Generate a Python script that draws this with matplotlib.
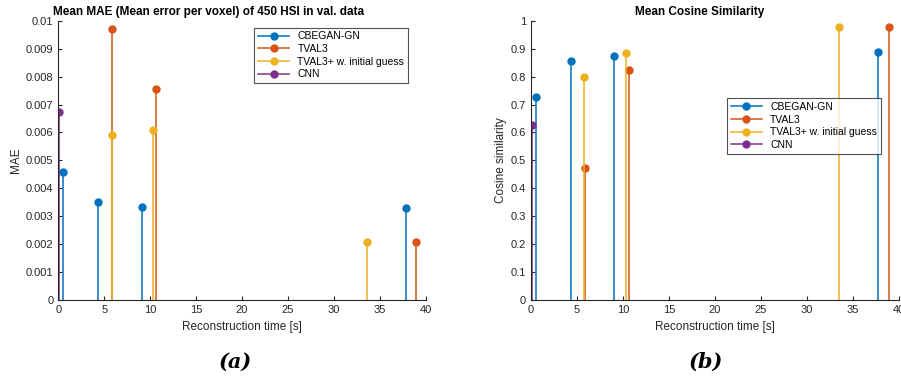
import numpy as np
import matplotlib.pyplot as plt

# reconstruction times [s] and scores per method
names = ['CBEGAN-GN', 'TVAL3', 'TVAL3+ w. initial guess', 'CNN']
colors = ['#0072BD', '#D95319', '#EDB120', '#7E2F8E']

t_cbegan = [0.55, 4.32, 9.08, 37.8]
t_tval3 = [5.88, 10.64, 38.97]
t_tval3p = [5.8, 10.35, 33.55]
t_cnn = [0.08]

mae_cbegan = [0.0046, 0.0035, 0.00335, 0.0033]
mae_tval3 = [0.00972, 0.00755, 0.00207]
mae_tval3p = [0.00592, 0.0061, 0.00208]
mae_cnn = [0.00672]

cos_cbegan = [0.728, 0.857, 0.875, 0.887]
cos_tval3 = [0.472, 0.822, 0.978]
cos_tval3p = [0.797, 0.885, 0.978]
cos_cnn = [0.628]

times = [t_cbegan, t_tval3, t_tval3p, t_cnn]
mae = [mae_cbegan, mae_tval3, mae_tval3p, mae_cnn]
cos = [cos_cbegan, cos_tval3, cos_tval3p, cos_cnn]

plt.rcParams['font.family'] = ['Liberation Sans', 'DejaVu Sans']
fig = plt.figure(figsize=(9.01, 3.77), dpi=100)
ax1 = fig.add_axes([0.0647, 0.204, 0.408, 0.741])
ax2 = fig.add_axes([0.5893, 0.204, 0.408, 0.741])


def stem_panel(ax, data, ymax, yticks, title, title_x, ylabel, legend_loc):
    for t, v, c, n in zip(times, data, colors, names):
        ax.vlines(t, 0, v, color=c, lw=1.1)
        ax.plot(t, v, 'o', color=c, ms=5, linestyle='none')
        ax.plot([], [], '-o', color=c, ms=5, lw=1.1, label=n)
    ax.set_xlim(0, 40)
    ax.set_ylim(0, ymax)
    ax.set_xticks(np.arange(0, 41, 5))
    ax.set_yticks(yticks)
    ax.set_yticklabels([('%g' % y) for y in yticks])
    for s in ['top', 'right']:
        ax.spines[s].set_visible(False)
    for s in ['left', 'bottom']:
        ax.spines[s].set_color('#262626')
        ax.spines[s].set_linewidth(0.8)
    ax.tick_params(direction='in', labelsize=8, colors='#262626', length=3)
    ax.set_xlabel('Reconstruction time [s]', fontsize=8.5, color='#262626', labelpad=4)
    ax.set_ylabel(ylabel, fontsize=8.5, color='#262626', labelpad=3)
    ax.text(title_x, 1.01, title, transform=ax.transAxes, fontsize=8.5,
            fontweight='bold', ha='center', va='bottom')
    leg = ax.legend(loc='upper left', bbox_to_anchor=legend_loc, fontsize=7.5,
                    frameon=True, fancybox=False, edgecolor='#262626',
                    handlelength=3.0, borderpad=0.35, labelspacing=0.25,
                    borderaxespad=0)
    leg.get_frame().set_linewidth(0.8)


stem_panel(ax1, mae, 0.01, np.round(np.arange(0, 0.0101, 0.001), 3),
           'Mean MAE (Mean error per voxel) of 450 HSI in val. data', 0.41, 'MAE',
           (0.533, 0.975))
stem_panel(ax2, cos, 1.0, np.round(np.arange(0, 1.01, 0.1), 1),
           'Mean Cosine Similarity', 0.46, 'Cosine similarity',
           (0.533, 0.722))

fig.text(0.261, 0.04, '(a)', fontsize=15, fontweight='bold', style='italic',
         family='DejaVu Serif', ha='center', va='center')
fig.text(0.784, 0.04, '(b)', fontsize=15, fontweight='bold', style='italic',
         family='DejaVu Serif', ha='center', va='center')

fig.savefig('out.png', dpi=100)
